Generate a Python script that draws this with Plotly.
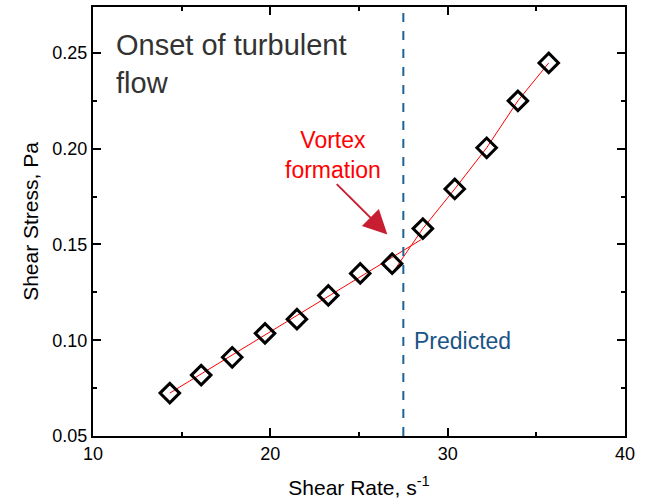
import plotly.graph_objects as go

shear_rate = [14.33, 16.1, 17.85, 19.7, 21.5, 23.27, 25.07, 26.87, 28.6, 30.4, 32.2, 33.96, 35.7]
shear_stress = [0.0724, 0.0818, 0.0911, 0.1036, 0.111, 0.1234, 0.1349, 0.1400, 0.1583, 0.1790, 0.2005, 0.2250, 0.2448]

low_fit_x = [14.33, 28.5]
low_fit_y = [0.0724, 0.1525]
high_fit_x = [26.95, 28.6, 30.4, 32.2, 33.96, 35.7]
high_fit_y = [0.1360, 0.1583, 0.1790, 0.2005, 0.2250, 0.2448]

predicted_x = 27.5
x_range = [10, 40]
y_range = [0.05, 0.274]
x_ticks = [10, 20, 30, 40]
y_ticks = [0.05, 0.10, 0.15, 0.20, 0.25]

FONT = "Liberation Sans, Arial, sans-serif"

fig = go.Figure()
fig.add_trace(go.Scatter(x=low_fit_x, y=low_fit_y, mode="lines",
                         line=dict(color="#ff0000", width=1), showlegend=False))
fig.add_trace(go.Scatter(x=high_fit_x, y=high_fit_y, mode="lines",
                         line=dict(color="#ff0000", width=1), showlegend=False))
fig.add_trace(go.Scatter(x=shear_rate, y=shear_stress, mode="markers",
                         marker=dict(symbol="diamond-open", size=15, color="black",
                                     line=dict(color="black", width=3)),
                         showlegend=False))

fig.add_shape(type="line", x0=predicted_x, x1=predicted_x, y0=0, y1=1,
              xref="x", yref="paper", line=dict(color="#1b6396", width=2, dash="dash"))

fig.add_annotation(x=predicted_x, y=0.0995, xref="x", yref="y", text="Predicted",
                   showarrow=False, xanchor="left", xshift=9,
                   font=dict(family=FONT, size=23, color="#1a5585"))
fig.add_annotation(x=11.2, y=0.2440, xref="x", yref="y",
                   text="Onset of turbulent<br>flow", showarrow=False,
                   xanchor="left", yanchor="middle", align="left",
                   font=dict(family=FONT, size=29, color="#333333"))
fig.add_annotation(x=23.56, y=0.1969, xref="x", yref="y",
                   text="Vortex<br>formation", showarrow=False,
                   xanchor="center", yanchor="middle", align="center",
                   font=dict(family=FONT, size=23, color="#ff0000"))
fig.add_annotation(x=26.6, y=0.1552, ax=23.66, ay=0.1823, xref="x", yref="y",
                   axref="x", ayref="y", text="", showarrow=True,
                   arrowhead=2, arrowsize=2.4, arrowwidth=2, arrowcolor="#c81e32")

axis_common = dict(showline=True, linecolor="black", linewidth=2, mirror="ticks",
                   ticks="inside", ticklen=8, tickwidth=1.5, tickcolor="black",
                   showgrid=False, zeroline=False, automargin=False,
                   tickfont=dict(family=FONT, size=18, color="black"))

fig.update_xaxes(range=x_range, tickvals=x_ticks, ticktext=[str(v) for v in x_ticks],
                 minor=dict(ticks="inside", ticklen=4, tickwidth=1.5, tickcolor="black", dtick=5),
                 title=dict(text="Shear Rate, s<sup>-1</sup>", standoff=18,
                            font=dict(family=FONT, size=21, color="black")),
                 **axis_common)
fig.update_yaxes(range=y_range, tickvals=y_ticks, ticktext=["%.2f" % v for v in y_ticks],
                 minor=dict(ticks="inside", ticklen=4, tickwidth=1.5, tickcolor="black", dtick=0.025),
                 title=dict(text="Shear Stress, Pa", standoff=8,
                            font=dict(family=FONT, size=21, color="black")),
                 **axis_common)

fig.update_layout(width=646, height=501, margin=dict(l=93, r=21, t=7, b=65),
                  plot_bgcolor="white", paper_bgcolor="white")

fig.write_html("out.html")
